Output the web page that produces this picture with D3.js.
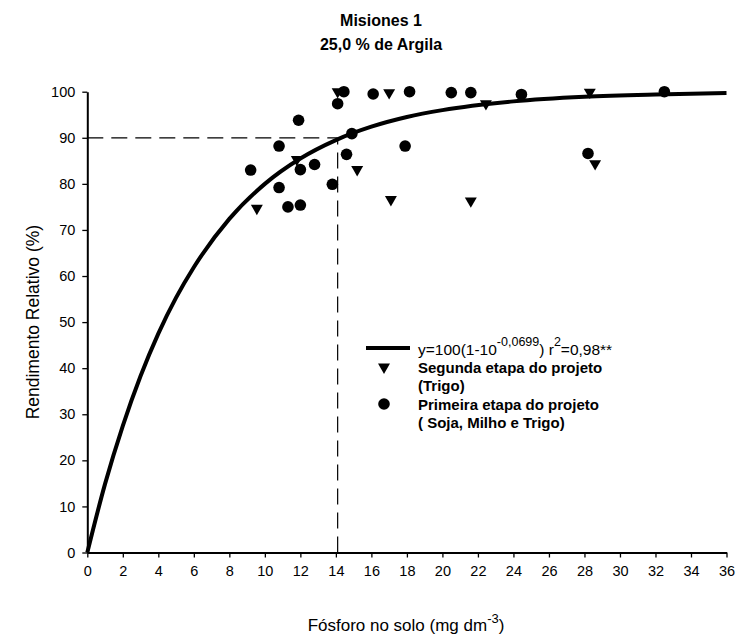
<!DOCTYPE html>
<html>
<head>
<meta charset="utf-8">
<script src="https://cdn.jsdelivr.net/npm/d3@7"></script>
<style>
  body { margin: 0; background: #fff; }
  text { font-family: Arial, "Liberation Sans", sans-serif; }
</style>
</head>
<body>
<div id="chart"></div>
<script>
// points
var primeiraX = [9.2, 10.8, 10.8, 11.3, 12.0, 11.9, 12.0, 12.8, 13.8, 14.1, 14.45, 14.6, 14.9, 16.1, 17.9, 18.15, 20.5, 21.6, 24.45, 28.2, 32.5];
var primeiraY = [83.0, 88.2, 79.2, 75.0, 75.4, 93.8, 83.1, 84.2, 79.9, 97.4, 100, 86.4, 90.9, 99.5, 88.2, 100, 99.8, 99.8, 99.4, 86.6, 100];

var segundaX = [9.55, 11.8, 14.1, 15.2, 17.1, 17.0, 21.6, 22.45, 28.3, 28.6];
var segundaY = [74.7, 85.3, 100, 83.1, 76.6, 99.8, 76.3, 97.4, 99.9, 84.4];

// fitted curve
var curveX = [0, 1, 2, 3, 4, 5, 6, 8, 10, 12, 14, 16, 18, 20, 24, 28, 32, 36];
var curveY = [0, 14.9, 27.5, 38.3, 47.5, 55.3, 61.9, 72.4, 80.0, 85.5, 89.5, 92.4, 94.5, 96.0, 97.9, 98.9, 99.4, 99.7];

var xTicks = d3.range(0, 37, 2);
var yTicks = d3.range(0, 101, 10);

// critical level lines
var critX = 14.1;
var critY = 90;

var width = 739, height = 639;

var svg = d3.select("#chart")
    .append("svg")
    .attr("width", width)
    .attr("height", height);

var xScale = d3.scaleLinear().domain([0, 36]).range([87.3, 726.5]);
var yScale = d3.scaleLinear().domain([0, 100]).range([552.5, 91.7]);

// title
svg.append("text")
    .attr("x", 381).attr("y", 26)
    .attr("text-anchor", "middle")
    .style("font-size", "16px").style("font-weight", "bold")
    .text("Misiones 1");
svg.append("text")
    .attr("x", 381).attr("y", 50)
    .attr("text-anchor", "middle")
    .style("font-size", "16px").style("font-weight", "bold")
    .text("25,0 % de Argila");

// x axis
var xAxis = svg.append("g")
    .attr("transform", "translate(0," + yScale(0) + ")")
    .call(d3.axisBottom(xScale).tickValues(xTicks).tickSize(5).tickSizeOuter(0).tickPadding(8));
xAxis.select(".domain").attr("stroke-width", 2);
xAxis.selectAll(".tick line").attr("stroke-width", 1.3);
xAxis.selectAll("text").style("font-size", "14.5px").attr("fill", "#000");

// y axis
var yAxis = svg.append("g")
    .attr("transform", "translate(" + xScale(0) + ",0)")
    .call(d3.axisLeft(yScale).tickValues(yTicks).tickSize(5).tickSizeOuter(0).tickPadding(7));
yAxis.select(".domain").attr("stroke-width", 2);
yAxis.selectAll(".tick line").attr("stroke-width", 1.3);
yAxis.selectAll("text").style("font-size", "14.5px").attr("fill", "#000");

// axis titles
svg.append("text")
    .attr("transform", "translate(39," + ((yScale(0) + yScale(100)) / 2) + ") rotate(-90)")
    .attr("text-anchor", "middle")
    .style("font-size", "17.5px")
    .text("Rendimento Relativo (%)");

var xt = svg.append("text")
    .attr("x", 406).attr("y", 631)
    .attr("text-anchor", "middle")
    .style("font-size", "17px");
xt.append("tspan").text("Fósforo no solo (mg dm");
xt.append("tspan").attr("dy", -8).style("font-size", "13px").text("-3");
xt.append("tspan").attr("dy", 8).text(")");

// dashed critical lines
svg.append("line")
    .attr("x1", xScale(0)).attr("x2", xScale(critX))
    .attr("y1", yScale(critY)).attr("y2", yScale(critY))
    .attr("stroke", "#000").attr("stroke-width", 1.2)
    .attr("stroke-dasharray", "16,8");
svg.append("line")
    .attr("x1", xScale(critX)).attr("x2", xScale(critX))
    .attr("y1", yScale(0)).attr("y2", yScale(critY))
    .attr("stroke", "#000").attr("stroke-width", 1.2)
    .attr("stroke-dasharray", "16,8");

// curve
var line = d3.line()
    .x(function (d, i) { return xScale(curveX[i]); })
    .y(function (d, i) { return yScale(curveY[i]); })
    .curve(d3.curveMonotoneX);
svg.append("path")
    .datum(curveY)
    .attr("d", line)
    .attr("fill", "none")
    .attr("stroke", "#000")
    .attr("stroke-width", 4);

// points
var tri = d3.symbol().type(d3.symbolTriangle).size(62);

svg.selectAll(".seg")
    .data(segundaX)
    .enter().append("path")
    .attr("class", "seg")
    .attr("d", tri)
    .attr("transform", function (d, i) {
        return "translate(" + xScale(d) + "," + yScale(segundaY[i]) + ") rotate(180)";
    })
    .attr("fill", "#000");

svg.selectAll(".pri")
    .data(primeiraX)
    .enter().append("circle")
    .attr("class", "pri")
    .attr("cx", function (d) { return xScale(d); })
    .attr("cy", function (d, i) { return yScale(primeiraY[i]); })
    .attr("r", 5.8)
    .attr("fill", "#000");

// legend
var lg = svg.append("g");
lg.append("line")
    .attr("x1", 366).attr("x2", 410)
    .attr("y1", 348).attr("y2", 348)
    .attr("stroke", "#000").attr("stroke-width", 4);
var eq = lg.append("text")
    .attr("x", 418).attr("y", 355)
    .style("font-size", "15.5px");
eq.append("tspan").text("y=100(1-10");
eq.append("tspan").attr("dy", -9).style("font-size", "12.5px").text("-0,0699");
eq.append("tspan").attr("dy", 9).text(") r");
eq.append("tspan").attr("dy", -9).style("font-size", "12.5px").text("2");
eq.append("tspan").attr("dy", 9).text("=0,98**");

lg.append("path")
    .attr("d", tri)
    .attr("transform", "translate(384,367) rotate(180)")
    .attr("fill", "#000");
lg.append("circle")
    .attr("cx", 384).attr("cy", 404).attr("r", 5.8)
    .attr("fill", "#000");

var legendLines = [
    ["Segunda etapa do projeto", 373],
    ["(Trigo)", 391],
    ["Primeira etapa do projeto", 410],
    ["( Soja, Milho e Trigo)", 428]
];
legendLines.forEach(function (l) {
    lg.append("text")
        .attr("x", 418).attr("y", l[1])
        .style("font-size", "15px").style("font-weight", "bold")
        .text(l[0]);
});
</script>
</body>
</html>
